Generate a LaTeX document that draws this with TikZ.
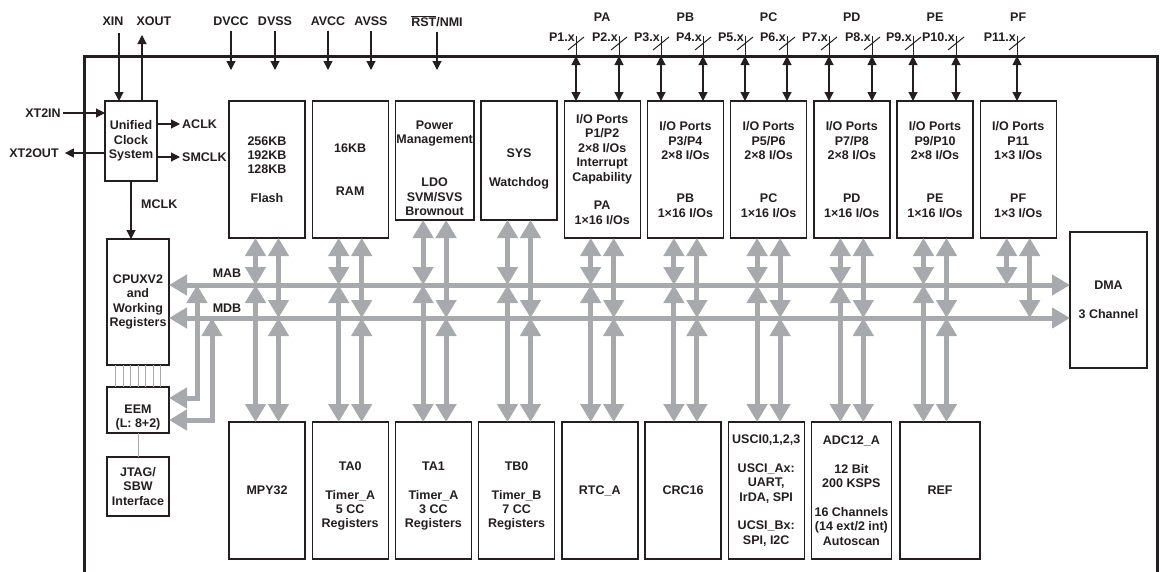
\documentclass[tikz,border=0pt]{standalone}
\usepackage{fontspec}
\setmainfont{Liberation Sans}
\usepackage{tikz}
\usetikzlibrary{arrows.meta,calc,positioning}
\definecolor{ink}{HTML}{231F20}
\definecolor{busgray}{HTML}{A7A9AC}
\tikzset{
  blk/.style={
    draw=ink,
    line width=1.4pt,
    outer sep=0pt,
    inner sep=1pt,
    minimum width=76pt,
    minimum height=137pt,
    align=center,
    text=ink,
    font=\bfseries\fontsize{12.5}{14.4}\selectfont
  },
  sig/.style={font=\bfseries\fontsize{12.5}{14.4}\selectfont, text=ink, inner sep=2pt},
  pin/.style={-{Triangle[width=9pt,length=9pt]}, line width=1.1pt, draw=ink},
  biopin/.style={{Triangle[width=9pt,length=9pt]}-{Triangle[width=9pt,length=9pt]}, line width=1.1pt, draw=ink},
  wire/.style={line width=1pt, draw=ink},
  bus/.style={{Triangle[width=20pt,length=18pt]}-{Triangle[width=20pt,length=18pt]}, line width=5pt, draw=busgray},
  tap/.style={line width=0.7pt, draw=busgray},
  frame/.style={line width=3pt, draw=ink}
}

\begin{document}
\begin{tikzpicture}[x=1pt,y=1pt]
  \useasboundingbox (0,0) rectangle (1160,-571);
  \fill[white] (0,0) rectangle (1160,-571);

  % device outline
  \draw[frame] (84,-590) |- (1157,-56) -- (1157,-590);
  \coordinate (rim) at (0,-56);
  \coordinate (inlet) at (0,-70);
  \coordinate (grp) at (0,-17);
  \coordinate (mab) at (0,-285);
  \coordinate (mdb) at (0,-318);

  % clock, cpu, debug
  \node[blk, minimum width=52pt, minimum height=80pt, anchor=north west] (clk) at (105,-101)
    {Unified\\Clock\\System};
  \node[blk, minimum width=62pt, minimum height=126pt, anchor=north west] (cpu) at (107,-239)
    {CPUXV2\\and\\Working\\Registers};
  \node[blk, minimum width=62pt, minimum height=46pt, below=22pt of cpu] (eem)
    {\rule{0pt}{23pt}EEM\\(L: 8+2)};
  \node[blk, minimum width=62pt, minimum height=59pt, below=24pt of eem] (jtag)
    {JTAG/\\SBW\\Interface};

  % upper row
  \node[blk, anchor=north west] (flash) at (229,-101) {256KB\\192KB\\128KB\\[14.4pt]Flash};
  \node[blk, right=7.2pt of flash] (ram) {16KB\\[28.8pt]RAM};
  \node[blk, minimum height=119pt, right=7.2pt of ram.north east, anchor=north west] (pwr)
    {\rule{0pt}{24pt}Power\\Management\\[28.8pt]LDO\\SVM/SVS\\Brownout};
  \node[blk, minimum height=119pt, right=7.2pt of pwr.north east, anchor=north west] (sys)
    {\rule{0pt}{25pt}SYS\\[14.4pt]Watchdog};
  \node[blk, right=7.2pt of sys.north east, anchor=north west] (pa)
    {I/O Ports\\P1/P2\\2×8 I/Os\\Interrupt\\Capability\\[14.4pt]PA\\1×16 I/Os};
  \node[blk, right=7.2pt of pa] (pb) {I/O Ports\\P3/P4\\2×8 I/Os\\[28.8pt]PB\\1×16 I/Os};
  \node[blk, right=7.2pt of pb] (pc) {I/O Ports\\P5/P6\\2×8 I/Os\\[28.8pt]PC\\1×16 I/Os};
  \node[blk, right=7.2pt of pc] (pd) {I/O Ports\\P7/P8\\2×8 I/Os\\[28.8pt]PD\\1×16 I/Os};
  \node[blk, right=7.2pt of pd] (pe) {I/O Ports\\P9/P10\\2×8 I/Os\\[28.8pt]PE\\1×16 I/Os};
  \node[blk, right=7.2pt of pe] (pf) {I/O Ports\\P11\\1×3 I/Os\\[28.8pt]PF\\1×3 I/Os};
  \node[blk, minimum width=77pt, minimum height=136pt, anchor=north west] (dma) at (1070,-232)
    {DMA\\[14.4pt]3 Channel};

  % lower row
  \node[blk, anchor=north west] (mpy) at (229,-422) {MPY32};
  \node[blk, right=7.2pt of mpy] (ta0) {\rule{0pt}{20pt}TA0\\[14.4pt]Timer\_A\\5 CC\\Registers};
  \node[blk, right=7.2pt of ta0] (ta1) {\rule{0pt}{20pt}TA1\\[14.4pt]Timer\_A\\3 CC\\Registers};
  \node[blk, right=7.2pt of ta1] (tb0) {\rule{0pt}{20pt}TB0\\[14.4pt]Timer\_B\\7 CC\\Registers};
  \node[blk, right=7.2pt of tb0] (rtc) {RTC\_A};
  \node[blk, right=7.2pt of rtc] (crc) {CRC16};
  \node[blk, right=7.2pt of crc] (usci)
    {USCI0,1,2,3\\[14.4pt]USCI\_Ax:\\UART,\\IrDA, SPI\\[14.4pt]UCSI\_Bx:\\SPI, I2C};
  \node[blk, minimum width=80pt, right=7.2pt of usci] (adc)
    {ADC12\_A\\[14.4pt]12 Bit\\200 KSPS\\[14.4pt]16 Channels\\(14 ext/2 int)\\Autoscan};
  \node[blk, minimum width=80pt, right=8.6pt of adc] (ref) {REF};

  % clock and supply pins
  \node[sig] (xin) at (113,-21) {XIN};
  \node[sig] (xout) at (154,-21) {XOUT};
  \coordinate (xinp) at (119,-33);
  \coordinate (xoutp) at (142,-35);
  \draw[pin] (xinp) -- (xinp |- clk.north);
  \draw[pin] (xoutp |- clk.north) -- (xoutp);
  \node[sig] (xt2in) at (43,-113) {XT2IN};
  \node[sig] (xt2out) at (34,-153) {XT2OUT};
  \draw[pin] (xt2in.east) -- (xt2in.east -| clk.west);
  \draw[pin] (xt2out.east -| clk.west) -- ([xshift=4pt]xt2out.east);
  \node[sig, anchor=west] (aclk) at (180,-124) {ACLK};
  \node[sig, anchor=west] (smclk) at (180,-157) {SMCLK};
  \node[sig, anchor=west] (mclk) at (139,-204) {MCLK};
  \draw[pin] (clk.east |- aclk) -- (aclk.west);
  \draw[pin] (clk.east |- smclk) -- (smclk.west);
  \draw[pin] (clk.south) -- (clk.south |- cpu.north);

  \node[sig] (dvcc) at (231,-21) {DVCC};
  \node[sig] (dvss) at (275,-21) {DVSS};
  \node[sig] (avcc) at (328,-21) {AVCC};
  \node[sig] (avss) at (371,-21) {AVSS};
  \node[sig] (rst) at (437,-21) {$\overline{\mbox{RST}}$/NMI};
  \foreach \p in {dvcc,dvss,avcc,avss,rst}
    \draw[pin, shorten <=3pt] (\p.south) -- (\p.south |- inlet);

  % port pins
  \foreach \g in {pa,pb,pc,pd,pe,pf}
    \node[sig] (\g-name) at (\g.north |- grp) {\MakeUppercase{\g}};
  \foreach \lab/\x/\b in {P1.x/576/pa, P2.x/619/pa, P3.x/661/pb, P4.x/703/pb, P5.x/745/pc,
      P6.x/787/pc, P7.x/829/pd, P8.x/872/pd, P9.x/913/pe, P10.x/956/pe, P11.x/1017/pf}{
    \coordinate (pt) at (\x,-36);
    \node[sig, inner sep=0pt, anchor=east] (lbl-\x) at (\x-1,-37) {\lab};
    \draw[wire] (pt) -- (pt |- rim);
    \draw[wire] ($(pt)+(-8,-14)$) -- ($(pt)+(8,-1)$);
    \draw[biopin] (pt |- rim) -- (pt |- \b.north);
  }

  % address and data bus
  \draw[bus] (cpu.east |- mab) -- (dma.west |- mab);
  \draw[bus] (cpu.east |- mdb) -- (dma.west |- mdb);
  \node[sig] (mablbl) at (227,-273) {MAB};
  \node[sig] (mdblbl) at (227,-308) {MDB};
  \foreach \t/\b in {flash/mpy,ram/ta0,pwr/ta1,sys/tb0,pa/rtc,pb/crc,pc/usci,pd/adc,pe/ref}{
    \path ($(\t.south)+(-11.5,0)$) coordinate (al) ($(\t.south)+(11.5,0)$) coordinate (dl);
    \draw[bus] (al) -- (al |- mab);
    \draw[bus] (al |- mab) -- (al |- \b.north);
    \draw[bus] (dl) -- (dl |- mdb);
    \draw[bus] (dl |- mdb) -- (dl |- \b.north);
  }
  \path ($(pf.south)+(-11.5,0)$) coordinate (al) ($(pf.south)+(11.5,0)$) coordinate (dl);
  \draw[bus] (al) -- (al |- mab);
  \draw[bus] (dl) -- (dl |- mdb);

  % emulation taps
  \coordinate (tapa) at (197,-285);
  \coordinate (tapd) at (212,-318);
  \draw[bus] ([yshift=12pt]eem.east) -| (tapa);
  \draw[bus] ([yshift=-10pt]eem.east) -| (tapd);
  \foreach \k in {-3,...,3}
    \draw[tap] ($(cpu.south)+(\k*7.5,0)$) -- ($(eem.north)+(\k*7.5,0)$);
  \draw[tap] (eem.south) -- (jtag.north);
\end{tikzpicture}
\end{document}
